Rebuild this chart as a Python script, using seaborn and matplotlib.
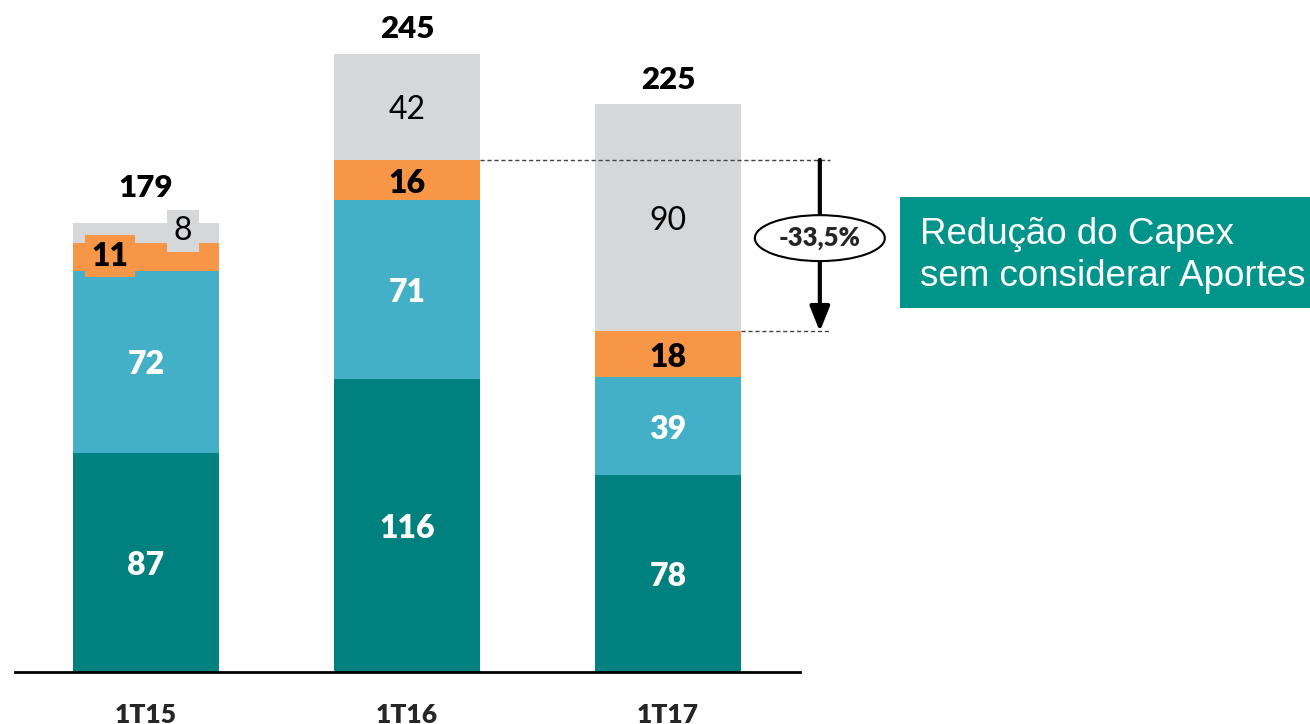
import numpy as np
import pandas as pd
import matplotlib
matplotlib.use("Agg")
import matplotlib.pyplot as plt
import seaborn as sns
from matplotlib.patches import Ellipse, Rectangle

# dados (R$ milhões)
periodos = ["1T15", "1T16", "1T17"]
seg_teal = [87, 116, 78]
seg_azul = [72, 71, 39]
seg_laranja = [11, 16, 18]
seg_cinza = [8, 42, 90]
totais = [179, 245, 225]
reducao_txt = "-33,5%"
caixa_txt = ["Redução do Capex", "sem considerar Aportes"]

cores = {"teal": "#00807F", "azul": "#43B0C7", "laranja": "#F79646", "cinza": "#D6D7D9"}
cor_caixa = "#00948A"

sns.set_style("white")
plt.rcParams["font.family"] = ["Lato", "DejaVu Sans"]

df = pd.DataFrame({
    "periodo": periodos,
    "teal": seg_teal,
    "azul": seg_azul,
    "laranja": seg_laranja,
    "cinza": seg_cinza,
})
# acumulados para empilhar (desenha do maior para o menor)
df["c1"] = df["teal"]
df["c2"] = df["c1"] + df["azul"]
df["c3"] = df["c2"] + df["laranja"]
df["c4"] = df["c3"] + df["cinza"]

fig = plt.figure(figsize=(13.1, 7.24), dpi=100)
ax = fig.add_axes([15 / 1310, 52 / 724, 785 / 1310, 672 / 724])

largura = 0.56
for col, cor in [("c4", "cinza"), ("c3", "laranja"), ("c2", "azul"), ("c1", "teal")]:
    sns.barplot(data=df, x="periodo", y=col, color=cores[cor], width=largura,
                saturation=1, ax=ax, edgecolor="none", linewidth=0)

ax.set_xlim(-0.502, 2.506)
ax.set_ylim(0, 266.4)
ax.set_xlabel("")
ax.set_ylabel("")
ax.set_yticks([])
for s in ["top", "right", "left"]:
    ax.spines[s].set_visible(False)
ax.spines["bottom"].set_color("black")
ax.spines["bottom"].set_linewidth(2)
ax.tick_params(axis="x", length=0, pad=22)
ax.set_xticks(range(len(periodos)))
ax.set_xticklabels(periodos, fontsize=19, fontweight="heavy")

fs = 23
dy = -1.2
for i in range(len(periodos)):
    ax.text(i, df["c1"][i] / 2 + dy, str(seg_teal[i]), ha="center", va="center",
            color="white", fontsize=fs, fontweight="heavy")
    ax.text(i, df["c1"][i] + seg_azul[i] / 2 + dy, str(seg_azul[i]), ha="center",
            va="center", color="white", fontsize=fs, fontweight="heavy")
    if i == 0:
        # segmentos pequenos: rótulos deslocados com fundo
        ax.text(i - 0.138, 164.8, str(seg_laranja[i]), ha="center", va="center",
                color="black", fontsize=fs, fontweight="heavy",
                bbox=dict(boxstyle="square,pad=0.2", fc=cores["laranja"], ec="none"))
        ax.text(i + 0.142, 174.8, str(seg_cinza[i]), ha="center", va="center",
                color="black", fontsize=fs,
                bbox=dict(boxstyle="square,pad=0.2", fc=cores["cinza"], ec="none"))
        off = 12.7
    else:
        ax.text(i, df["c2"][i] + seg_laranja[i] / 2 + dy, str(seg_laranja[i]), ha="center",
                va="center", color="black", fontsize=fs, fontweight="heavy")
        ax.text(i, df["c3"][i] + seg_cinza[i] / 2 + dy, str(seg_cinza[i]), ha="center",
                va="center", color="black", fontsize=fs)
        off = 9.8
    ax.text(i, totais[i] + off, str(totais[i]), ha="center", va="center",
            color="black", fontsize=22.5, fontweight="heavy")

# linhas tracejadas e seta de redução
x_fim = 2.621
x_seta = 2.582
y_ant = df["c3"][1]
y_atual = df["c3"][2]
ax.plot([1 + largura / 2, x_fim], [y_ant, y_ant], ls=(0, (3, 2)), color="#444444",
        lw=1, clip_on=False)
ax.plot([2 + largura / 2, x_fim], [y_atual, y_atual], ls=(0, (3, 2)), color="#444444",
        lw=1, clip_on=False)
ax.annotate("", xy=(x_seta, y_atual), xytext=(x_seta, y_ant),
            arrowprops=dict(arrowstyle="-|>,head_length=0.75,head_width=0.3",
                            mutation_scale=20, lw=3, color="black",
                            shrinkA=0, shrinkB=0),
            annotation_clip=False)
y_el = (y_ant + y_atual) / 2 + 3
ax.add_patch(Ellipse((x_seta, y_el), 0.498, 18.2, fc="white", ec="black", lw=1.5,
                     clip_on=False, zorder=5))
ax.text(x_seta, y_el, reducao_txt, ha="center", va="center", fontsize=18.5,
        fontweight="heavy", zorder=6)

# caixa de destaque
fig.patches.append(Rectangle((900 / 1310, (724 - 308) / 724), 410 / 1310, 111 / 724,
                             transform=fig.transFigure, fc=cor_caixa, ec="none"))
fig.text(920 / 1310, (724 - 234) / 724, caixa_txt[0], ha="left", va="center",
         color="white", fontsize=26.5, family=["Liberation Sans", "DejaVu Sans"])
fig.text(920 / 1310, (724 - 276) / 724, caixa_txt[1], ha="left", va="center",
         color="white", fontsize=26.5, family=["Liberation Sans", "DejaVu Sans"])

plt.savefig("out.png", dpi=100)
